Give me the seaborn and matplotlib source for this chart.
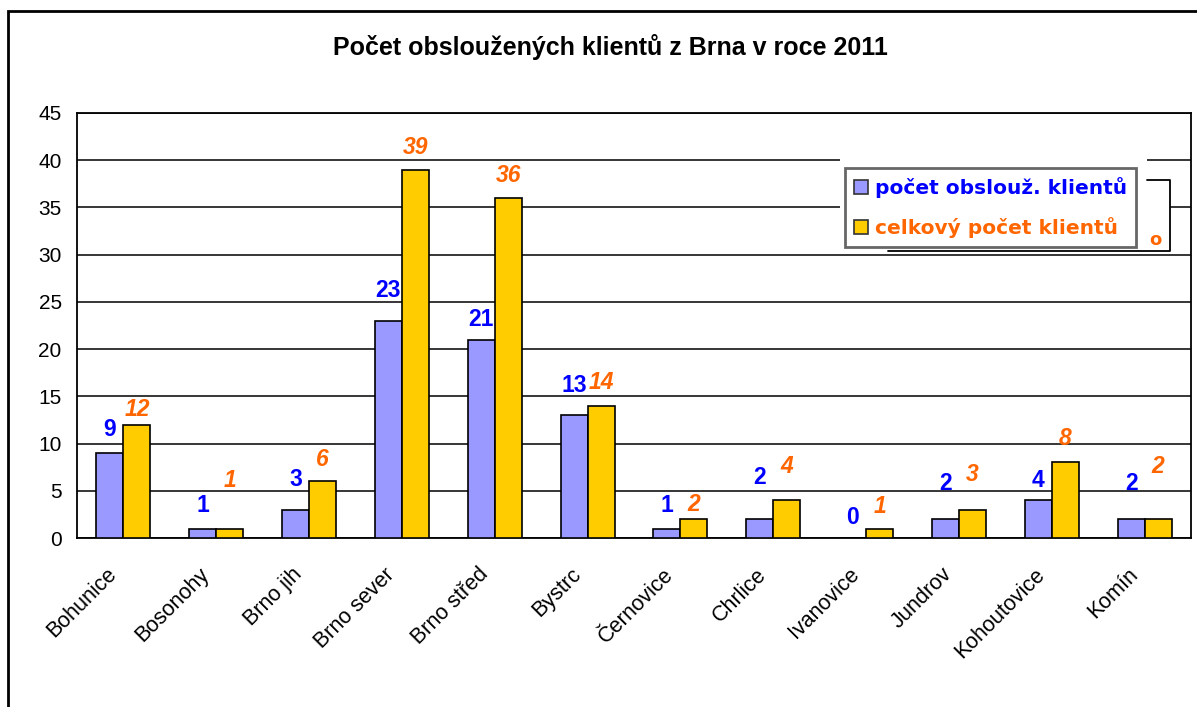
import numpy as np
import pandas as pd
import matplotlib
matplotlib.use("Agg")
import matplotlib.pyplot as plt
import matplotlib.patches as mpatches
import matplotlib.transforms as mtransforms
from matplotlib.lines import Line2D
import seaborn as sns

# ---- data ----
categories = ["Bohunice", "Bosonohy", "Brno jih", "Brno sever", "Brno střed", "Bystrc",
              "Černovice", "Chrlice", "Ivanovice", "Jundrov", "Kohoutovice", "Komín"]
served = [9, 1, 3, 23, 21, 13, 1, 2, 0, 2, 4, 2]
total = [12, 1, 6, 39, 36, 14, 2, 4, 1, 3, 8, 2]
series_names = ["počet obslouž. klientů", "celkový počet klientů"]
title = "Počet obsloužených klientů z Brna v roce 2011"
y_ticks = [0, 5, 10, 15, 20, 25, 30, 35, 40, 45]

# label nudges (pixels above bar top), styling only
served_label_dy = [23, 23, 30, 30, 20, 30, 23, 42, 21, 36, 20, 36]
total_label_dy = [15, 48, 22, 22, 22, 23, 15, 34, 22, 35, 24, 53]

BLUE_BAR = "#9999FF"
YELLOW_BAR = "#FFCC00"
BLUE_TXT = "#0000FF"
ORANGE_TXT = "#FF6600"

sns.set_theme(style="white")
plt.rcParams["font.family"] = ["Liberation Sans", "DejaVu Sans"]

df = pd.DataFrame({
    "obvod": categories * 2,
    "hodnota": served + total,
    "serie": [series_names[0]] * len(categories) + [series_names[1]] * len(categories),
})

W, H = 1197, 707
fig = plt.figure(figsize=(W / 100, H / 100), dpi=100)
fig.patch.set_facecolor("white")


def fx(x):
    return x / W


def fy(y):
    return 1 - y / H


ax = fig.add_axes([fx(77), fy(538), fx(1191) - fx(77), fy(113) - fy(538)])

sns.barplot(data=df, x="obvod", y="hodnota", hue="serie", order=categories,
            hue_order=series_names, palette=[BLUE_BAR, YELLOW_BAR], saturation=1,
            width=0.58, gap=0, edgecolor="black", linewidth=1.2,
            errorbar=None, legend=False, ax=ax, zorder=3)

ax.set_ylim(0, 45)
ax.set_xlim(-0.5, len(categories) - 0.5)
ax.set_yticks(y_ticks)
ax.set_yticklabels([str(t) for t in y_ticks], fontsize=15)
ax.yaxis.grid(True, color="black", linewidth=1.1)
ax.xaxis.grid(False)
ax.set_axisbelow(True)
for s in ax.spines.values():
    s.set_visible(True)
    s.set_color("black")
    s.set_linewidth(1.3)

ax.set_xlabel("")
ax.set_ylabel("")
ax.set_xticks(range(len(categories)))
ax.set_xticklabels(categories, rotation=45, ha="right", va="center",
                   rotation_mode="anchor", fontsize=15.5)
ax.tick_params(axis="x", which="major", length=0, pad=24)
shift = mtransforms.ScaledTranslation(-10 / 100, 0, fig.dpi_scale_trans)
for lbl in ax.get_xticklabels():
    lbl.set_transform(lbl.get_transform() + shift)
ax.set_xticks(np.arange(-0.5, len(categories), 1), minor=True)
ax.tick_params(axis="x", which="minor", length=7, width=1.2, color="black", direction="out")
ax.tick_params(axis="y", which="major", length=7, width=1.2, color="black", direction="out", pad=4)
ax.tick_params(axis="both", colors="black")

# data labels
for cont, vals, dys, col, style in [
    (ax.containers[0], served, served_label_dy, BLUE_TXT, "normal"),
    (ax.containers[1], total, total_label_dy, ORANGE_TXT, "italic"),
]:
    for bar, v, dy in zip(cont.patches, vals, dys):
        ax.annotate(str(v), xy=(bar.get_x() + bar.get_width() / 2, bar.get_height()),
                    xytext=(0, dy), textcoords="offset pixels", ha="center", va="center",
                    fontsize=16.5, fontweight="bold", fontstyle=style, color=col,
                    annotation_clip=False, zorder=5)

# title
fig.text(fx(610), fy(47), title, ha="center", va="center", fontsize=18, fontweight="bold",
         color="black")

# outer chart frame
fig.patches.append(mpatches.Rectangle((fx(8), fy(H + 10)), fx(W + 20) - fx(8), fy(11) - fy(H + 10),
                                      transform=fig.transFigure, fill=False, edgecolor="black",
                                      linewidth=2, clip_on=False))

# white area behind legend and stray bracket
fig.patches.append(mpatches.Rectangle((fx(888), fy(251)), fx(1170) - fx(888), fy(180) - fy(251),
                                      transform=fig.transFigure, facecolor="white",
                                      edgecolor="none", zorder=4))
fig.patches.append(mpatches.Rectangle((fx(840), fy(251)), fx(1147) - fx(840), fy(155) - fy(251),
                                      transform=fig.transFigure, facecolor="white",
                                      edgecolor="none", zorder=4))
fig.lines.append(Line2D([fx(1147), fx(1170), fx(1170), fx(888)],
                        [fy(180), fy(180), fy(251), fy(251)], transform=fig.transFigure,
                        color="black", linewidth=1.3, zorder=5))
fig.text(fx(1155), fy(240), "o", ha="center", va="center", fontsize=13, fontweight="bold",
         color=ORANGE_TXT, family="DejaVu Sans", zorder=6)

# legend
handles = [mpatches.Patch(facecolor=BLUE_BAR, edgecolor="#333333", linewidth=1.2),
           mpatches.Patch(facecolor=YELLOW_BAR, edgecolor="#333333", linewidth=1.2)]
leg = fig.legend(handles, series_names, loc="upper left",
                 bbox_to_anchor=(fx(845), fy(168)), bbox_transform=fig.transFigure,
                 borderaxespad=0, frameon=True, fancybox=False, shadow=False,
                 prop={"family": "DejaVu Sans", "weight": "bold", "size": 14.5},
                 handlelength=0.7, handleheight=0.7, handletextpad=0.35,
                 labelspacing=0.95, borderpad=0.45)
leg.set_zorder(7)
frame = leg.get_frame()
frame.set_edgecolor("#404040")
frame.set_linewidth(2)
frame.set_facecolor("white")
for t, c in zip(leg.get_texts(), [BLUE_TXT, ORANGE_TXT]):
    t.set_color(c)

fig.savefig("out.png", dpi=100, facecolor="white")
